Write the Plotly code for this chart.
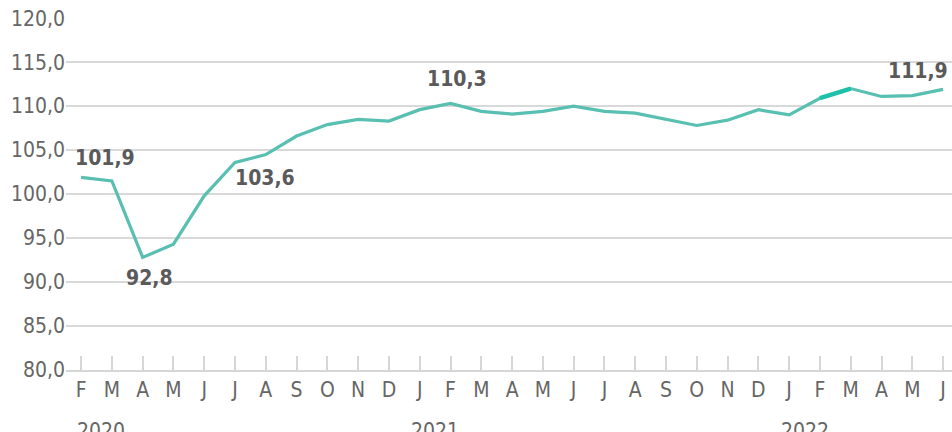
import plotly.graph_objects as go

# Monthly index, Feb 2020 - Jun 2022
months = ["F", "M", "A", "M", "J", "J", "A", "S", "O", "N", "D",
          "J", "F", "M", "A", "M", "J", "J", "A", "S", "O", "N", "D",
          "J", "F", "M", "A", "M", "J"]
values = [101.9, 101.5, 92.8, 94.3, 99.8, 103.6, 104.5, 106.6, 107.9, 108.5, 108.3,
          109.6, 110.3, 109.4, 109.1, 109.4, 110.0, 109.4, 109.2, 108.5, 107.8, 108.4, 109.6,
          109.0, 110.9, 112.0, 111.1, 111.2, 111.9]
years = ["2020", "2021", "2022"]
year_start = [0, 11, 23]          # index of first month shown in each year
labelled = [0, 2, 5, 12, 28]      # points with a value label
highlight = [24, 25]              # darker segment

x = list(range(len(values)))
FONT = "DejaVu Sans Condensed, Liberation Sans Narrow, Roboto"
GREY = "#5a5a5a"

fig = go.Figure()

fig.add_trace(go.Scatter(
    x=x, y=values, mode="lines",
    line=dict(color="#58bfb1", width=3.2),
    hoverinfo="skip", showlegend=False
))

fig.add_trace(go.Scatter(
    x=[x[i] for i in highlight], y=[values[i] for i in highlight], mode="lines",
    line=dict(color="#1dc1a9", width=4.5),
    hoverinfo="skip", showlegend=False
))

# value labels (offsets in px)
offsets = {0: (24, -19), 2: (7, 21), 5: (30, 16), 12: (6, -24), 28: (-25, -18)}
for i in labelled:
    dx, dy = offsets[i]
    fig.add_annotation(
        x=x[i], y=values[i], text=f"{values[i]:.1f}".replace(".", ","),
        showarrow=False, xshift=dx, yshift=-dy,
        font=dict(family=FONT, size=21, color=GREY, weight="bold")
    )

# year labels under the month letters
for k, yr in enumerate(years):
    pos = 0.65 if k == 0 else year_start[k] + 0.5
    fig.add_annotation(
        x=pos, y=0, xref="x", yref="paper", yanchor="top", yshift=-47,
        text=yr, showarrow=False,
        font=dict(family=FONT, size=21, color="#666666")
    )

fig.update_xaxes(
    range=[-0.49, 28.29], automargin=False,
    tickmode="array", tickvals=x, ticktext=months,
    ticks="inside", ticklen=14, tickcolor="#d6d6d6", tickwidth=1.5,
    showgrid=False, zeroline=False,
    showline=True, linecolor="#d6d6d6", linewidth=1.5,
    tickfont=dict(family=FONT, size=21, color="#666666"),
    ticklabeloverflow="allow",
    fixedrange=True
)

fig.update_yaxes(
    range=[80, 120.02], dtick=5, tickformat=".1f", automargin=False,
    showgrid=True, gridcolor="#d9d9d9", gridwidth=1.5,
    zeroline=False, showline=False, ticks="",
    tickfont=dict(family=FONT, size=21, color="#666666"),
    ticklabeloverflow="allow",
    fixedrange=True
)

fig.update_layout(
    width=952, height=432,
    margin=dict(l=66, r=0, t=18, b=62),
    plot_bgcolor="white", paper_bgcolor="white",
    separators=", ",
    showlegend=False
)

# drop the default page margin so the figure fills the window exactly
fig.write_html(
    "out.html",
    config={"displayModeBar": False},
    post_script="document.body.style.margin='0';document.body.style.overflow='hidden';"
)
